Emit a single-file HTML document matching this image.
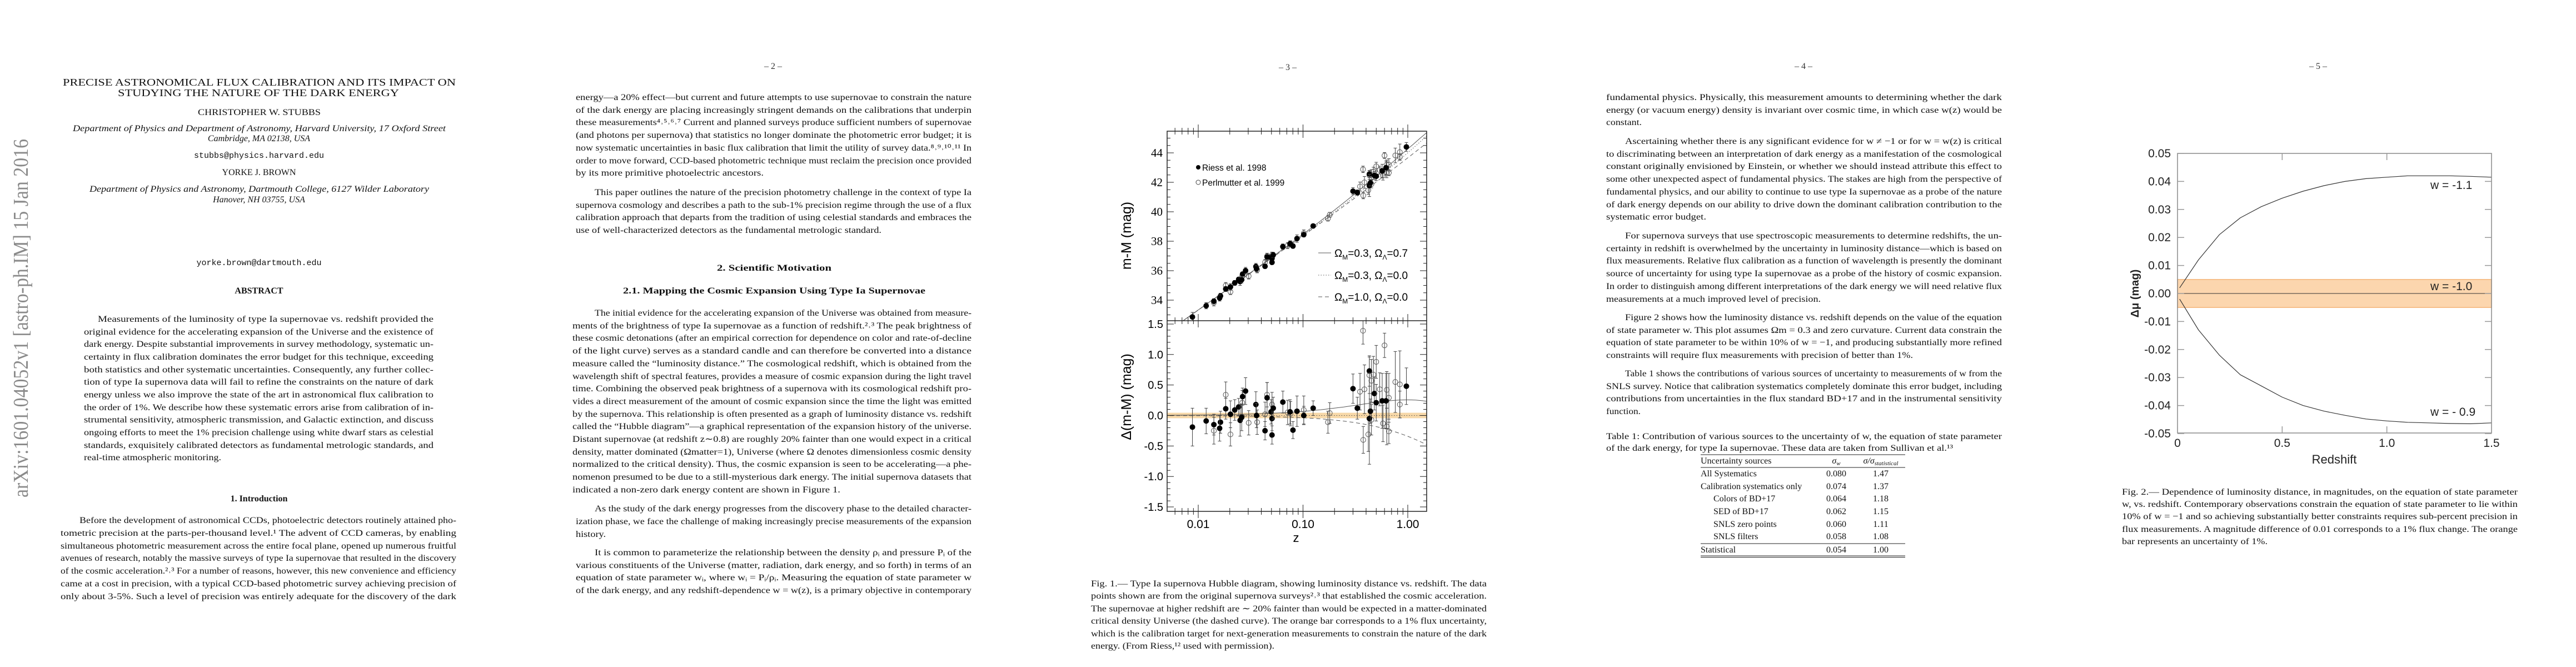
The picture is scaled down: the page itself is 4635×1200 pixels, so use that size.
<!DOCTYPE html>
<html><head><meta charset="utf-8"><title>Precise astronomical flux calibration</title>
<style>
html,body{margin:0;padding:0;background:#fff;}
svg{display:block;}
.t{font-family:"Liberation Serif",serif;font-size:16px;fill:#111;}
.c{font-family:"Liberation Serif",serif;font-size:16px;fill:#111;}
.tt{font-family:"Liberation Serif",serif;font-size:18px;fill:#111;}
.i{font-style:italic;}
.b{font-weight:bold;}
.m{font-family:"Liberation Mono",monospace;font-size:15px;fill:#111;}
.pn{font-family:"Liberation Serif",serif;font-size:16px;fill:#333;}
</style></head>
<body>
<svg id="page" width="4635" height="1200" viewBox="0 0 4635 1200" xmlns="http://www.w3.org/2000/svg">
<rect width="4635" height="1200" fill="#fff"/>

<!-- PAGE 1 -->
<g>
<text x="37" y="895" transform="rotate(-90 37 895)" textLength="645" lengthAdjust="spacingAndGlyphs" style="font-family:'Liberation Serif',serif;font-size:38px;fill:#8a8a8a" dy="13">arXiv:1601.04052v1  [astro-ph.IM]  15 Jan 2016</text>
<g>
<text class="tt" x="113" y="154" textLength="707" lengthAdjust="spacingAndGlyphs">PRECISE ASTRONOMICAL FLUX CALIBRATION AND ITS IMPACT ON</text>
<text class="tt" x="212" y="173" textLength="506" lengthAdjust="spacingAndGlyphs">STUDYING THE NATURE OF THE DARK ENERGY</text>
</g>
<g>
<text class="t" x="356" y="207" textLength="221" lengthAdjust="spacingAndGlyphs">CHRISTOPHER W. STUBBS</text>
<text class="t i" x="131" y="236" textLength="671" lengthAdjust="spacingAndGlyphs">Department of Physics and Department of Astronomy, Harvard University, 17 Oxford Street</text>
<text class="t i" x="466" y="254" text-anchor="middle">Cambridge, MA 02138, USA</text>
<text class="m" x="466" y="284" text-anchor="middle">stubbs@physics.harvard.edu</text>
<text class="t" x="466" y="315" text-anchor="middle">YORKE J. BROWN</text>
<text class="t i" x="161" y="345" textLength="611" lengthAdjust="spacingAndGlyphs">Department of Physics and Astronomy, Dartmouth College, 6127 Wilder Laboratory</text>
<text class="t i" x="466" y="364" text-anchor="middle">Hanover, NH 03755, USA</text>
<text class="m" x="466" y="477" text-anchor="middle">yorke.brown@dartmouth.edu</text>
</g>
<text class="t b" x="466" y="528" text-anchor="middle">ABSTRACT</text>
<g>
<text class="t" x="176" y="579" textLength="604" lengthAdjust="spacingAndGlyphs">Measurements of the luminosity of type Ia supernovae vs. redshift provided the</text>
<text class="t" x="151" y="602" textLength="629" lengthAdjust="spacingAndGlyphs">original evidence for the accelerating expansion of the Universe and the existence of</text>
<text class="t" x="151" y="624" textLength="629" lengthAdjust="spacingAndGlyphs">dark energy. Despite substantial improvements in survey methodology, systematic un-</text>
<text class="t" x="151" y="647" textLength="629" lengthAdjust="spacingAndGlyphs">certainty in flux calibration dominates the error budget for this technique, exceeding</text>
<text class="t" x="151" y="670" textLength="629" lengthAdjust="spacingAndGlyphs">both statistics and other systematic uncertainties. Consequently, any further collec-</text>
<text class="t" x="151" y="692" textLength="629" lengthAdjust="spacingAndGlyphs">tion of type Ia supernova data will fail to refine the constraints on the nature of dark</text>
<text class="t" x="151" y="715" textLength="629" lengthAdjust="spacingAndGlyphs">energy unless we also improve the state of the art in astronomical flux calibration to</text>
<text class="t" x="151" y="738" textLength="629" lengthAdjust="spacingAndGlyphs">the order of 1%. We describe how these systematic errors arise from calibration of in-</text>
<text class="t" x="151" y="760" textLength="629" lengthAdjust="spacingAndGlyphs">strumental sensitivity, atmospheric transmission, and Galactic extinction, and discuss</text>
<text class="t" x="151" y="783" textLength="629" lengthAdjust="spacingAndGlyphs">ongoing efforts to meet the 1% precision challenge using white dwarf stars as celestial</text>
<text class="t" x="151" y="806" textLength="629" lengthAdjust="spacingAndGlyphs">standards, exquisitely calibrated detectors as fundamental metrologic standards, and</text>
<text class="t" x="151" y="828" textLength="247" lengthAdjust="spacingAndGlyphs">real-time atmospheric monitoring.</text>
</g>
<text class="t b" x="466" y="902" text-anchor="middle">1.   Introduction</text>
<g>
<text class="t" x="143" y="941" textLength="678" lengthAdjust="spacingAndGlyphs">Before the development of astronomical CCDs, photoelectric detectors routinely attained pho-</text>
<text class="t" x="109" y="964" textLength="712" lengthAdjust="spacingAndGlyphs">tometric precision at the parts-per-thousand level.¹  The advent of CCD cameras, by enabling</text>
<text class="t" x="109" y="987" textLength="712" lengthAdjust="spacingAndGlyphs">simultaneous photometric measurement across the entire focal plane, opened up numerous fruitful</text>
<text class="t" x="109" y="1009" textLength="712" lengthAdjust="spacingAndGlyphs">avenues of research, notably the massive surveys of type Ia supernovae that resulted in the discovery</text>
<text class="t" x="109" y="1032" textLength="712" lengthAdjust="spacingAndGlyphs">of the cosmic acceleration.²˒³  For a number of reasons, however, this new convenience and efficiency</text>
<text class="t" x="109" y="1055" textLength="712" lengthAdjust="spacingAndGlyphs">came at a cost in precision, with a typical CCD-based photometric survey achieving precision of</text>
<text class="t" x="109" y="1078" textLength="712" lengthAdjust="spacingAndGlyphs">only about 3-5%.  Such a level of precision was entirely adequate for the discovery of the dark</text>
</g>
</g>

<!-- PAGE 2 -->
<g>
<text class="pn" x="1391" y="124" text-anchor="middle">– 2 –</text>
<g>
<text class="t" x="1036" y="180" textLength="712" lengthAdjust="spacingAndGlyphs">energy—a 20% effect—but current and future attempts to use supernovae to constrain the nature</text>
<text class="t" x="1036" y="203" textLength="712" lengthAdjust="spacingAndGlyphs">of the dark energy are placing increasingly stringent demands on the calibrations that underpin</text>
<text class="t" x="1036" y="225" textLength="712" lengthAdjust="spacingAndGlyphs">these measurements⁴˒⁵˒⁶˒⁷ Current and planned surveys produce sufficient numbers of supernovae</text>
<text class="t" x="1036" y="248" textLength="712" lengthAdjust="spacingAndGlyphs">(and photons per supernova) that statistics no longer dominate the photometric error budget; it is</text>
<text class="t" x="1036" y="271" textLength="712" lengthAdjust="spacingAndGlyphs">now systematic uncertainties in basic flux calibration that limit the utility of survey data.⁸˒⁹˒¹⁰˒¹¹  In</text>
<text class="t" x="1036" y="294" textLength="712" lengthAdjust="spacingAndGlyphs">order to move forward, CCD-based photometric technique must reclaim the precision once provided</text>
<text class="t" x="1036" y="316" textLength="338" lengthAdjust="spacingAndGlyphs">by its more primitive photoelectric ancestors.</text>
<text class="t" x="1070" y="351" textLength="678" lengthAdjust="spacingAndGlyphs">This paper outlines the nature of the precision photometry challenge in the context of type Ia</text>
<text class="t" x="1036" y="374" textLength="712" lengthAdjust="spacingAndGlyphs">supernova cosmology and describes a path to the sub-1% precision regime through the use of a flux</text>
<text class="t" x="1036" y="396" textLength="712" lengthAdjust="spacingAndGlyphs">calibration approach that departs from the tradition of using celestial standards and embraces the</text>
<text class="t" x="1036" y="419" textLength="550" lengthAdjust="spacingAndGlyphs">use of well-characterized detectors as the fundamental metrologic standard.</text>
<text class="t b" x="1290" y="487" textLength="206" lengthAdjust="spacingAndGlyphs">2.    Scientific Motivation</text>
<text class="t b" x="1121" y="528" textLength="544" lengthAdjust="spacingAndGlyphs">2.1.    Mapping the Cosmic Expansion Using Type Ia Supernovae</text>
<text class="t" x="1070" y="568" textLength="678" lengthAdjust="spacingAndGlyphs">The initial evidence for the accelerating expansion of the Universe was obtained from measure-</text>
<text class="t" x="1030" y="591" textLength="718" lengthAdjust="spacingAndGlyphs">ments of the brightness of type Ia supernovae as a function of redshift.²˒³  The peak brightness of</text>
<text class="t" x="1030" y="613" textLength="718" lengthAdjust="spacingAndGlyphs">these cosmic detonations (after an empirical correction for dependence on color and rate-of-decline</text>
<text class="t" x="1030" y="636" textLength="718" lengthAdjust="spacingAndGlyphs">of the light curve) serves as a standard candle and can therefore be converted into a distance</text>
<text class="t" x="1030" y="659" textLength="718" lengthAdjust="spacingAndGlyphs">measure called the “luminosity distance.” The cosmological redshift, which is obtained from the</text>
<text class="t" x="1030" y="682" textLength="718" lengthAdjust="spacingAndGlyphs">wavelength shift of spectral features, provides a measure of cosmic expansion during the light travel</text>
<text class="t" x="1030" y="704" textLength="718" lengthAdjust="spacingAndGlyphs">time. Combining the observed peak brightness of a supernova with its cosmological redshift pro-</text>
<text class="t" x="1030" y="727" textLength="718" lengthAdjust="spacingAndGlyphs">vides a direct measurement of the amount of cosmic expansion since the time the light was emitted</text>
<text class="t" x="1030" y="750" textLength="718" lengthAdjust="spacingAndGlyphs">by the supernova. This relationship is often presented as a graph of luminosity distance vs. redshift</text>
<text class="t" x="1030" y="772" textLength="718" lengthAdjust="spacingAndGlyphs">called the “Hubble diagram”—a graphical representation of the expansion history of the universe.</text>
<text class="t" x="1030" y="795" textLength="718" lengthAdjust="spacingAndGlyphs">Distant supernovae (at redshift z∼0.8) are roughly 20% fainter than one would expect in a critical</text>
<text class="t" x="1030" y="818" textLength="718" lengthAdjust="spacingAndGlyphs">density, matter dominated (Ωmatter=1), Universe (where Ω denotes dimensionless cosmic density</text>
<text class="t" x="1030" y="840" textLength="718" lengthAdjust="spacingAndGlyphs">normalized to the critical density). Thus, the cosmic expansion is seen to be accelerating—a phe-</text>
<text class="t" x="1030" y="863" textLength="718" lengthAdjust="spacingAndGlyphs">nomenon presumed to be due to a still-mysterious dark energy. The initial supernova datasets that</text>
<text class="t" x="1030" y="886" textLength="482" lengthAdjust="spacingAndGlyphs">indicated a non-zero dark energy content are shown in Figure 1.</text>
<text class="t" x="1070" y="920" textLength="678" lengthAdjust="spacingAndGlyphs">As the study of the dark energy progresses from the discovery phase to the detailed character-</text>
<text class="t" x="1036" y="943" textLength="712" lengthAdjust="spacingAndGlyphs">ization phase, we face the challenge of making increasingly precise measurements of the expansion</text>
<text class="t" x="1036" y="966" textLength="54" lengthAdjust="spacingAndGlyphs">history.</text>
<text class="t" x="1070" y="999" textLength="678" lengthAdjust="spacingAndGlyphs">It is common to parameterize the relationship between the density ρᵢ and pressure Pᵢ of the</text>
<text class="t" x="1036" y="1022" textLength="712" lengthAdjust="spacingAndGlyphs">various constituents of the Universe (matter, radiation, dark energy, and so forth) in terms of an</text>
<text class="t" x="1036" y="1044" textLength="712" lengthAdjust="spacingAndGlyphs">equation of state parameter wᵢ, where wᵢ = Pᵢ/ρᵢ. Measuring the equation of state parameter w</text>
<text class="t" x="1036" y="1067" textLength="712" lengthAdjust="spacingAndGlyphs">of the dark energy, and any redshift-dependence w = w(z), is a primary objective in contemporary</text>
</g>
</g>

<!-- PAGE 3 -->
<g>
<text class="pn" x="2317" y="126" text-anchor="middle">– 3 –</text>
<g id="fig1"></g>
<g>
<text class="c" x="1963" y="1055" textLength="712" lengthAdjust="spacingAndGlyphs">Fig.  1.— Type Ia supernova Hubble diagram, showing luminosity distance vs. redshift.  The data</text>
<text class="c" x="1963" y="1077" textLength="712" lengthAdjust="spacingAndGlyphs">points shown are from the original supernova surveys²˒³ that established the cosmic acceleration.</text>
<text class="c" x="1963" y="1100" textLength="712" lengthAdjust="spacingAndGlyphs">The supernovae at higher redshift are ∼ 20% fainter than would be expected in a matter-dominated</text>
<text class="c" x="1963" y="1122" textLength="712" lengthAdjust="spacingAndGlyphs">critical density Universe (the dashed curve).  The orange bar corresponds to a 1% flux uncertainty,</text>
<text class="c" x="1963" y="1145" textLength="712" lengthAdjust="spacingAndGlyphs">which is the calibration target for next-generation measurements to constrain the nature of the dark</text>
<text class="c" x="1963" y="1167" textLength="330" lengthAdjust="spacingAndGlyphs">energy. (From Riess,¹² used with permission).</text>
</g>
</g>

<!-- PAGE 4 -->
<g>
<text class="pn" x="3245" y="124" text-anchor="middle">– 4 –</text>
<g>
<text class="t" x="2890" y="180" textLength="712" lengthAdjust="spacingAndGlyphs">fundamental physics.  Physically, this measurement amounts to determining whether the dark</text>
<text class="t" x="2890" y="203" textLength="712" lengthAdjust="spacingAndGlyphs">energy (or vacuum energy) density is invariant over cosmic time, in which case w(z) would be</text>
<text class="t" x="2890" y="225" textLength="64" lengthAdjust="spacingAndGlyphs">constant.</text>
<text class="t" x="2924" y="259" textLength="678" lengthAdjust="spacingAndGlyphs">Ascertaining whether there is any significant evidence for w ≠ −1 or for w = w(z) is critical</text>
<text class="t" x="2890" y="282" textLength="712" lengthAdjust="spacingAndGlyphs">to discriminating between an interpretation of dark energy as a manifestation of the cosmological</text>
<text class="t" x="2890" y="304" textLength="712" lengthAdjust="spacingAndGlyphs">constant originally envisioned by Einstein, or whether we should instead attribute this effect to</text>
<text class="t" x="2890" y="327" textLength="712" lengthAdjust="spacingAndGlyphs">some other unexpected aspect of fundamental physics. The stakes are high from the perspective of</text>
<text class="t" x="2890" y="350" textLength="712" lengthAdjust="spacingAndGlyphs">fundamental physics, and our ability to continue to use type Ia supernovae as a probe of the nature</text>
<text class="t" x="2890" y="373" textLength="712" lengthAdjust="spacingAndGlyphs">of dark energy depends on our ability to drive down the dominant calibration contribution to the</text>
<text class="t" x="2890" y="395" textLength="180" lengthAdjust="spacingAndGlyphs">systematic error budget.</text>
<text class="t" x="2924" y="429" textLength="678" lengthAdjust="spacingAndGlyphs">For supernova surveys that use spectroscopic measurements to determine redshifts, the un-</text>
<text class="t" x="2890" y="452" textLength="712" lengthAdjust="spacingAndGlyphs">certainty in redshift is overwhelmed by the uncertainty in luminosity distance—which is based on</text>
<text class="t" x="2890" y="474" textLength="712" lengthAdjust="spacingAndGlyphs">flux measurements. Relative flux calibration as a function of wavelength is presently the dominant</text>
<text class="t" x="2890" y="497" textLength="712" lengthAdjust="spacingAndGlyphs">source of uncertainty for using type Ia supernovae as a probe of the history of cosmic expansion.</text>
<text class="t" x="2890" y="520" textLength="712" lengthAdjust="spacingAndGlyphs">In order to distinguish among different interpretations of the dark energy we will need relative flux</text>
<text class="t" x="2890" y="543" textLength="386" lengthAdjust="spacingAndGlyphs">measurements at a much improved level of precision.</text>
<text class="t" x="2924" y="576" textLength="678" lengthAdjust="spacingAndGlyphs">Figure 2 shows how the luminosity distance vs. redshift depends on the value of the equation</text>
<text class="t" x="2890" y="599" textLength="712" lengthAdjust="spacingAndGlyphs">of state parameter w. This plot assumes Ωm = 0.3 and zero curvature. Current data constrain the</text>
<text class="t" x="2890" y="621" textLength="712" lengthAdjust="spacingAndGlyphs">equation of state parameter to be within 10% of w = −1, and producing substantially more refined</text>
<text class="t" x="2890" y="644" textLength="552" lengthAdjust="spacingAndGlyphs">constraints will require flux measurements with precision of better than 1%.</text>
<text class="t" x="2924" y="677" textLength="678" lengthAdjust="spacingAndGlyphs">Table 1 shows the contributions of various sources of uncertainty to measurements of w from the</text>
<text class="t" x="2890" y="700" textLength="712" lengthAdjust="spacingAndGlyphs">SNLS survey. Notice that calibration systematics completely dominate this error budget, including</text>
<text class="t" x="2890" y="722" textLength="712" lengthAdjust="spacingAndGlyphs">contributions from uncertainties in the flux standard BD+17 and in the instrumental sensitivity</text>
<text class="t" x="2890" y="745" textLength="62" lengthAdjust="spacingAndGlyphs">function.</text>
</g>
<g>
<text class="t" x="2890" y="790" textLength="712" lengthAdjust="spacingAndGlyphs">Table 1: Contribution of various sources to the uncertainty of w, the equation of state parameter</text>
<text class="t" x="2890" y="811" textLength="624" lengthAdjust="spacingAndGlyphs">of the dark energy, for type Ia supernovae.  These data are taken from Sullivan et al.¹³</text>
</g>
<g>
<line x1="3060" x2="3428" y1="818" y2="818" stroke="#222" stroke-width="1"/>
<line x1="3060" x2="3428" y1="841" y2="841" stroke="#222" stroke-width="1"/>
<line x1="3060" x2="3428" y1="978" y2="978" stroke="#222" stroke-width="1"/>
<line x1="3060" x2="3428" y1="1000" y2="1000" stroke="#222" stroke-width="1"/>
<line x1="3060" x2="3428" y1="1002.5" y2="1002.5" stroke="#222" stroke-width="1"/>
<text class="t" x="3060" y="834">Uncertainty sources</text>
<text class="t i" x="3304" y="834" text-anchor="middle">σ<tspan font-size="11" dy="3">w</tspan></text>
<text class="t i" x="3384" y="834" text-anchor="middle">σ/σ<tspan font-size="11" dy="3">statistical</tspan></text>
<g><text class="t" x="3060" y="857">All Systematics</text><text class="t" x="3304" y="857" text-anchor="middle">0.080</text><text class="t" x="3384" y="857" text-anchor="middle">1.47</text></g>
<g><text class="t" x="3060" y="880">Calibration systematics only</text><text class="t" x="3304" y="880" text-anchor="middle">0.074</text><text class="t" x="3384" y="880" text-anchor="middle">1.37</text></g>
<g><text class="t" x="3083" y="902">Colors of BD+17</text><text class="t" x="3304" y="902" text-anchor="middle">0.064</text><text class="t" x="3384" y="902" text-anchor="middle">1.18</text></g>
<g><text class="t" x="3083" y="925">SED of BD+17</text><text class="t" x="3304" y="925" text-anchor="middle">0.062</text><text class="t" x="3384" y="925" text-anchor="middle">1.15</text></g>
<g><text class="t" x="3083" y="948">SNLS zero points</text><text class="t" x="3304" y="948" text-anchor="middle">0.060</text><text class="t" x="3384" y="948" text-anchor="middle">1.11</text></g>
<g><text class="t" x="3083" y="970">SNLS filters</text><text class="t" x="3304" y="970" text-anchor="middle">0.058</text><text class="t" x="3384" y="970" text-anchor="middle">1.08</text></g>
<g><text class="t" x="3060" y="994">Statistical</text><text class="t" x="3304" y="994" text-anchor="middle">0.054</text><text class="t" x="3384" y="994" text-anchor="middle">1.00</text></g>
</g>
</g>

<!-- PAGE 5 -->
<g>
<text class="pn" x="4171" y="124" text-anchor="middle">– 5 –</text>
<g id="fig2"></g>
<g>
<text class="c" x="3818" y="890" textLength="712" lengthAdjust="spacingAndGlyphs">Fig.  2.— Dependence of luminosity distance, in magnitudes, on the equation of state parameter</text>
<text class="c" x="3818" y="912" textLength="712" lengthAdjust="spacingAndGlyphs">w, vs. redshift. Contemporary observations constrain the equation of state parameter to lie within</text>
<text class="c" x="3818" y="934" textLength="712" lengthAdjust="spacingAndGlyphs">10% of w = −1 and so achieving substantially better constraints requires sub-percent precision in</text>
<text class="c" x="3818" y="957" textLength="712" lengthAdjust="spacingAndGlyphs">flux measurements.  A magnitude difference of 0.01 corresponds to a 1% flux change.  The orange</text>
<text class="c" x="3818" y="979" textLength="262" lengthAdjust="spacingAndGlyphs">bar represents an uncertainty of 1%.</text>
</g>
</g>
</svg>

<script>
// ===== Figure 1 data =====
const riessZ = [0.0088,0.0119,0.0141,0.0163,0.0160,0.0183,0.0203,0.0223,0.0243,0.0251,0.0265,0.0283,0.0260,0.0355,0.0360,0.0434,0.0454,0.0496,0.0506,0.0506,0.0520,0.0642,0.0752,0.0802,0.0876,0.1017,0.125,0.30,0.33,0.43,0.43,0.44,0.48,0.50,0.57,0.62,0.97];
const riessResid = [-0.19,-0.09,-0.15,-0.11,-0.21,0.11,0.02,0.09,0.14,-0.08,0.31,0.40,-0.03,0.18,0.00,-0.25,0.29,0.06,-0.05,-0.32,0.12,0.22,0.06,-0.24,0.07,0.00,0.12,0.44,0.12,0.73,-0.05,0.07,0.36,0.21,0.24,0.24,0.48];
const riessErr = [0.31,0.21,0.17,0.18,0.21,0.17,0.22,0.17,0.14,0.26,0.14,0.22,0.22,0.21,0.2,0.15,0.25,0.2,0.2,0.15,0.18,0.18,0.2,0.14,0.25,0.15,0.12,0.24,0.18,0.25,0.75,0.2,0.27,0.3,0.45,0.45,0.3];
const perlZ = [0.0141,0.0183,0.0203,0.0263,0.0303,0.0365,0.0434,0.0454,0.0506,0.0713,0.076,0.1017,0.173,0.18,0.35,0.376,0.374,0.386,0.42,0.43,0.45,0.47,0.50,0.45,0.54,0.58,0.60,0.63,0.66,0.66,0.76,0.84,0.84,0.63];
const perlResid = [-0.25,0.34,-0.31,0.21,-0.12,-0.11,0.02,0.34,0.18,0.05,0.03,0.09,-0.11,0.04,0.39,-0.40,1.39,0.43,-0.31,0.66,0.57,0.67,0.88,-0.07,0.43,-0.13,1.15,-0.18,0.29,-0.26,0.55,0.18,0.51,0.42];
const perlErr = [0.22,0.21,0.19,0.2,0.2,0.2,0.2,0.2,0.2,0.2,0.2,0.23,0.18,0.17,0.3,0.22,0.22,0.4,0.28,0.3,0.35,0.3,0.27,0.25,0.27,0.3,0.2,0.3,0.4,0.2,0.5,0.22,0.55,0.3];
const upperTickLabels = [34,36,38,40,42,44];
const lowerTickLabels = [-1.5,-1.0,-0.5,0.0,0.5,1.0,1.5];
const xTickLabels = [0.01,0.10,1.00];
const models = [
  {om:0.3, ol:0.7, dash:"", label:"ΩM=0.3, ΩΛ=0.7", name:"model-lambda"},
  {om:0.3, ol:0.0, dash:"1.5,3", label:"ΩM=0.3, ΩΛ=0.0", name:"model-open"},
  {om:1.0, ol:0.0, dash:"7,5", label:"ΩM=1.0, ΩΛ=0.0", name:"model-matter"}
];
// ===== Figure 2 data =====
const f2Redshift = [0.01,0.1,0.2,0.3,0.4,0.5,0.6,0.7,0.8,0.9,1.0,1.1,1.2,1.3,1.4,1.5];
const f2WMinus11 = [0.002,0.012,0.021,0.027,0.031,0.034,0.0365,0.0385,0.040,0.041,0.0415,0.042,0.042,0.042,0.0418,0.0415];
const f2WMinus09 = [-0.002,-0.013,-0.022,-0.029,-0.033,-0.037,-0.040,-0.042,-0.0435,-0.0448,-0.0455,-0.046,-0.0462,-0.0464,-0.0465,-0.0462];
const f2YTicks = [-0.05,-0.04,-0.03,-0.02,-0.01,0.00,0.01,0.02,0.03,0.04,0.05];
const f2XTicks = [0,0.5,1.0,1.5];

const NS="http://www.w3.org/2000/svg";
function mk(parent,tag,attrs,text){const e=document.createElementNS(NS,tag);for(const k in attrs)e.setAttribute(k,attrs[k]);if(text!==undefined)e.textContent=text;parent.appendChild(e);return e;}

// ---------- Figure 1 ----------
(function(){
  const g=document.getElementById('fig1');
  const L=2100,R=2567,T=236,MID=577,B=920;
  const xz=z=>2156+(Math.log10(z)+2)*188.5;
  const yU=v=>275+(44-v)*26.5;
  const yL=r=>747.5-r*109.7;
  function mu(z,om,ol){
    const ok=1-om-ol,n=200,h=z/n;let s=0;
    const E=x=>1/Math.sqrt(om*Math.pow(1+x,3)+ok*Math.pow(1+x,2)+ol);
    for(let i=0;i<=n;i++){const w=(i===0||i===n)?1:(i%2?4:2);s+=w*E(i*h);}
    s*=h/3;const c=299792.458,H=65,dh=c/H;
    let dm=dh*s; if(ok>1e-6){dm=dh/Math.sqrt(ok)*Math.sinh(Math.sqrt(ok)*s);}
    return 5*Math.log10((1+z)*dm)+25;
  }
  const defs=mk(g,'defs',{});
  const c1=mk(defs,'clipPath',{id:'clipU'});mk(c1,'rect',{x:L,y:T,width:R-L,height:MID-T});
  const c2=mk(defs,'clipPath',{id:'clipL'});mk(c2,'rect',{x:L,y:MID,width:R-L,height:B-MID});

  // orange band (lower panel)
  const band=mk(g,'rect',{x:L,y:yL(0.045),width:R-L,height:yL(-0.045)-yL(0.045),fill:'rgba(241,190,110,0.6)'});
  
  

  const zs=[];for(let i=0;i<=120;i++)zs.push(Math.pow(10,-2.4+i*(2.65/120)));
  const gu=mk(g,'g',{'clip-path':'url(#clipU)'});
  const gl=mk(g,'g',{'clip-path':'url(#clipL)'});
  models.forEach(m=>{
    let d='';zs.forEach((z,i)=>{d+=(i?'L':'M')+xz(z).toFixed(1)+','+yU(mu(z,m.om,m.ol)).toFixed(1);});
    const p=mk(gu,'path',{d:d,fill:'none',stroke:'#555','stroke-width':1,'stroke-dasharray':m.dash});
    
    
    let d2='';zs.forEach((z,i)=>{d2+=(i?'L':'M')+xz(z).toFixed(1)+','+yL(mu(z,m.om,m.ol)-mu(z,0.3,0.0)).toFixed(1);});
    const p2=mk(gl,'path',{d:d2,fill:'none',stroke:'#555','stroke-width':1,'stroke-dasharray':m.dash});
    
    
  });

  function drawPts(par,zArr,rArr,eArr,filled,panel){
    zArr.forEach((z,i)=>{
      const x=xz(z);
      const base=panel==='u'?mu(z,0.3,0.0):0;
      const yf=panel==='u'?yU:yL;
      const y=yf(base+rArr[i]),y1=yf(base+rArr[i]+eArr[i]),y2=yf(base+rArr[i]-eArr[i]);
      const eb=mk(par,'path',{d:`M${x},${y1}V${y2}M${x-3},${y1}h6M${x-3},${y2}h6`,stroke:'#444','stroke-width':1,fill:'none'});
      
      
      const ci=mk(par,'circle',{cx:x,cy:y,r:4.5,fill:filled?'#000':'none',stroke:filled?'#000':'#555','stroke-width':1});
      
      
    });
  }
  drawPts(gu,perlZ,perlResid,perlErr,false,'u');
  drawPts(gu,riessZ,riessResid,riessErr,true,'u');
  drawPts(gl,perlZ,perlResid,perlErr,false,'l');
  drawPts(gl,riessZ,riessResid,riessErr,true,'l');

  // frames
  mk(g,'rect',{x:L,y:T,width:R-L,height:B-T,fill:'none',stroke:'#222','stroke-width':1.5});
  mk(g,'line',{x1:L,x2:R,y1:MID,y2:MID,stroke:'#222','stroke-width':1.5});
  // x ticks (log)
  let dt='';
  for(let e=-3;e<=0;e++)for(let k=1;k<=9;k++){const z=k*Math.pow(10,e);const x=xz(z);if(x<L||x>R)continue;const len=k===1?12:6;
    [T,MID,B].forEach(y0=>{dt+=`M${x},${y0}v${-len}`;dt+=`M${x},${y0}v${len}`;});}
  // y ticks
  for(let v=32.5;v<=45.3;v+=0.5){const y=yU(v);if(y<T||y>MID)continue;const len=Math.abs(v%2)<0.01?12:6;dt+=`M${L},${y}h${len}M${R},${y}h${-len}`;}
  for(let i=-15;i<=15;i++){const y=yL(i/10);const len=(i%5===0)?12:6;dt+=`M${L},${y}h${len}M${R},${y}h${-len}`;}
  const tk=mk(g,'path',{d:dt,stroke:'#222','stroke-width':1,fill:'none'});
  
  
  const clipTick=mk(g,'rect',{x:L-14,y:T-14,width:14,height:0,fill:'#fff'});

  upperTickLabels.forEach(v=>{const t=mk(g,'text',{x:2092,y:yU(v)+7,'text-anchor':'end',style:'font-family:"Liberation Serif",serif;font-size:21px'},String(v));
    
    });
  lowerTickLabels.forEach(v=>{const t=mk(g,'text',{x:2093,y:yL(v)+7,'text-anchor':'end',style:'font-family:"Liberation Sans",sans-serif;font-size:20px'},v.toFixed(1));
    
    });
  xTickLabels.forEach(v=>{const t=mk(g,'text',{x:xz(v),y:950,'text-anchor':'middle',style:'font-family:"Liberation Sans",sans-serif;font-size:21px'},v.toFixed(2));
    
    });
  const xt=mk(g,'text',{x:2332,y:975,'text-anchor':'middle',style:'font-family:"Liberation Sans",sans-serif;font-size:22px'},'z');
  
  
  const yt1=mk(g,'text',{x:0,y:0,transform:'translate(2035,424) rotate(-90)','text-anchor':'middle',style:'font-family:"Liberation Sans",sans-serif;font-size:25px'},'m-M (mag)');
  
  
  const yt2=mk(g,'text',{x:0,y:0,transform:'translate(2035,714) rotate(-90)','text-anchor':'middle',style:'font-family:"Liberation Sans",sans-serif;font-size:25px'},'Δ(m-M) (mag)');
  
  

  // legends
  const lg=mk(g,'g',{});
  
  
  mk(lg,'circle',{cx:2156,cy:301,r:4,fill:'#000'});
  const l1=mk(lg,'text',{x:2163,y:307,style:'font-family:"Liberation Sans",sans-serif;font-size:15.5px'},'Riess et al. 1998');
  
  
  mk(lg,'circle',{cx:2156,cy:328,r:4,fill:'none',stroke:'#444'});
  const l2=mk(lg,'text',{x:2163,y:334,style:'font-family:"Liberation Sans",sans-serif;font-size:15.5px'},'Perlmutter et al. 1999');
  
  
  const ly=[455,495,534];
  models.forEach((m,i)=>{
    mk(lg,'line',{x1:2372,x2:2395,y1:ly[i],y2:ly[i],stroke:'#555','stroke-dasharray':m.dash});
    const t=mk(lg,'text',{x:2401,y:ly[i]+7,style:'font-family:"Liberation Sans",sans-serif;font-size:19px'});
    
    
    const parts=m.label.match(/Ω(M)=([\d.]+), Ω(Λ)=([\d.]+)/);
    mk(t,'tspan',{},'Ω');mk(t,'tspan',{'font-size':12,dy:5},parts[1]);mk(t,'tspan',{dy:-5},'='+parts[2]+', Ω');
    mk(t,'tspan',{'font-size':12,dy:5},parts[3]);mk(t,'tspan',{dy:-5},'='+parts[4]);
  });
})();

// ---------- Figure 2 ----------
(function(){
  const g=document.getElementById('fig2');
  const L=3918,R=4483,T=276,B=779;
  const xs=z=>L+z/1.5*(R-L);
  const ys=v=>528-v/0.05*(528-T);
  const band=mk(g,'rect',{x:L,y:ys(0.005),width:R-L,height:ys(-0.005)-ys(0.005),fill:'#fcd6ae',stroke:'#f4b57a','stroke-width':1.5});
  
  
  const zl=mk(g,'line',{x1:L,x2:R,y1:ys(0),y2:ys(0),stroke:'#333','stroke-width':1});
  
  
  function line(arr,name){let d='';f2Redshift.forEach((z,i)=>{d+=(i?'L':'M')+xs(z).toFixed(1)+','+ys(arr[i]).toFixed(1);});
    const p=mk(g,'path',{d:d,fill:'none',stroke:'#333','stroke-width':1.2,'stroke-linejoin':'round'});
    
    }
  line(f2WMinus11,'w-minus-1-1-curve');
  line(f2WMinus09,'w-minus-0-9-curve');
  mk(g,'rect',{x:L,y:T,width:R-L,height:B-T,fill:'none',stroke:'#888','stroke-width':1.5});
  let d='';
  f2YTicks.forEach(v=>{const y=ys(v);d+=`M${L},${y}h12M${R},${y}h-12`;});
  f2XTicks.forEach(v=>{const x=xs(v);d+=`M${x},${T}v12M${x},${B}v-12`;});
  const tk=mk(g,'path',{d:d,stroke:'#999','stroke-width':1.5,fill:'none'});
  
  
  const fs='font-family:"Liberation Sans Narrow","Liberation Sans",sans-serif;font-size:21px;fill:#222';
  f2YTicks.forEach(v=>{const t=mk(g,'text',{x:3906,y:ys(v)+7,'text-anchor':'end',style:fs},v.toFixed(2));
    
    });
  f2XTicks.forEach(v=>{const t=mk(g,'text',{x:xs(v),y:804,'text-anchor':'middle',style:fs},v===0?'0':v.toFixed(1));
    
    });
  const xt=mk(g,'text',{x:4200,y:834,'text-anchor':'middle',style:fs.replace('21px','22px')},'Redshift');
  
  
  const yt=mk(g,'text',{x:0,y:0,transform:'translate(3848,528) rotate(-90)','text-anchor':'middle',style:'font-family:"Liberation Sans",sans-serif;font-size:20px;font-weight:bold;fill:#222'},'Δμ  (mag)');
  
  
  const labs=[['w = -1.1',340,'label-w-minus-1-1'],['w = -1.0',522,'label-w-minus-1-0'],['w = - 0.9',748,'label-w-minus-0-9']];
  labs.forEach(a=>{const t=mk(g,'text',{x:4373,y:a[1],style:fs},a[0]);
    
    });
})();
</script>
</body></html>
